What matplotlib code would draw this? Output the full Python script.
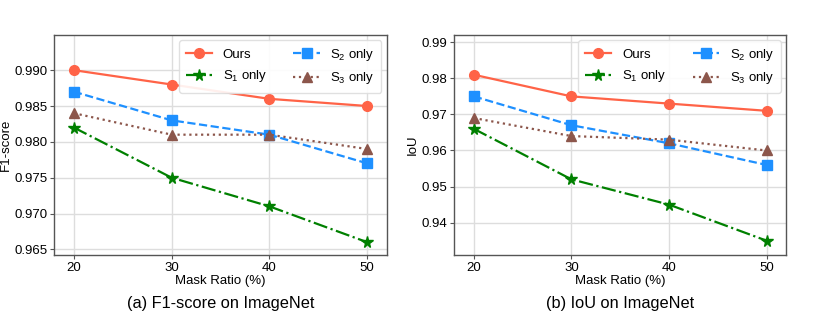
import matplotlib
matplotlib.use("Agg")
import matplotlib.pyplot as plt

plt.rcParams['font.family'] = ['Liberation Sans', 'DejaVu Sans']
plt.rcParams['mathtext.default'] = 'regular'

# данные
mask_ratio = [20, 30, 40, 50]

f1_ours = [0.990, 0.988, 0.986, 0.985]
f1_s1 = [0.982, 0.975, 0.971, 0.966]
f1_s2 = [0.987, 0.983, 0.981, 0.977]
f1_s3 = [0.984, 0.981, 0.981, 0.979]

iou_ours = [0.981, 0.975, 0.973, 0.971]
iou_s1 = [0.966, 0.952, 0.945, 0.935]
iou_s2 = [0.975, 0.967, 0.962, 0.956]
iou_s3 = [0.969, 0.964, 0.963, 0.960]

f1_ticks = [0.965, 0.970, 0.975, 0.980, 0.985, 0.990]
iou_ticks = [0.94, 0.95, 0.96, 0.97, 0.98, 0.99]

fig = plt.figure(figsize=(8.3, 3.13), dpi=100)
ax1 = fig.add_axes([0.0654, 0.185, 0.4005, 0.703])
ax2 = fig.add_axes([0.5474, 0.185, 0.3996, 0.703])


def draw(ax, ours, s1, s2, s3, ticks, ylim, ylabel, fmt, caption):
    ax.plot(mask_ratio, ours, color='#FF6347', marker='o', markersize=7,
            linewidth=1.6, linestyle='-', label='Ours')
    ax.plot(mask_ratio, s1, color='green', marker='*', markersize=8.5,
            linewidth=1.6, linestyle='-.', label='S$_1$ only')
    ax.plot(mask_ratio, s2, color='#1E90FF', marker='s', markersize=7,
            linewidth=1.6, linestyle='--', label='S$_2$ only')
    ax.plot(mask_ratio, s3, color='#8c564b', marker='^', markersize=7,
            linewidth=1.6, linestyle=':', label='S$_3$ only')
    ax.set_xlim(18, 52)
    ax.set_ylim(*ylim)
    ax.set_xticks(mask_ratio)
    ax.set_yticks(ticks)
    ax.set_yticklabels([fmt.format(t) for t in ticks])
    ax.grid(True, color='#dddddd', linewidth=1.0)
    ax.set_axisbelow(True)
    for s in ax.spines.values():
        s.set_color('#555555')
        s.set_linewidth(1.0)
    ax.tick_params(labelsize=9.5, length=3, color='#555555', pad=2)
    ax.set_xlabel('Mask Ratio (%)', fontsize=9.5, labelpad=1)
    ax.set_ylabel(ylabel, fontsize=9.5, labelpad=2)
    ax.legend(ncol=2, fontsize=9.5, loc='upper right', framealpha=0.9,
              edgecolor='#dddddd', handlelength=2.0, columnspacing=2.0,
              borderaxespad=0.4, handletextpad=0.8, labelspacing=0.55,
              borderpad=0.5)
    ax.text(0.5, -0.185, caption, transform=ax.transAxes, ha='center',
            va='top', fontsize=11.8)


draw(ax1, f1_ours, f1_s1, f1_s2, f1_s3, f1_ticks, (0.9642, 0.9949),
     'F1-score', '{:.3f}', '(a) F1-score on ImageNet')
draw(ax2, iou_ours, iou_s1, iou_s2, iou_s3, iou_ticks, (0.931, 0.992),
     'IoU', '{:.2f}', '(b) IoU on ImageNet')

fig.savefig('out.png', dpi=100)
